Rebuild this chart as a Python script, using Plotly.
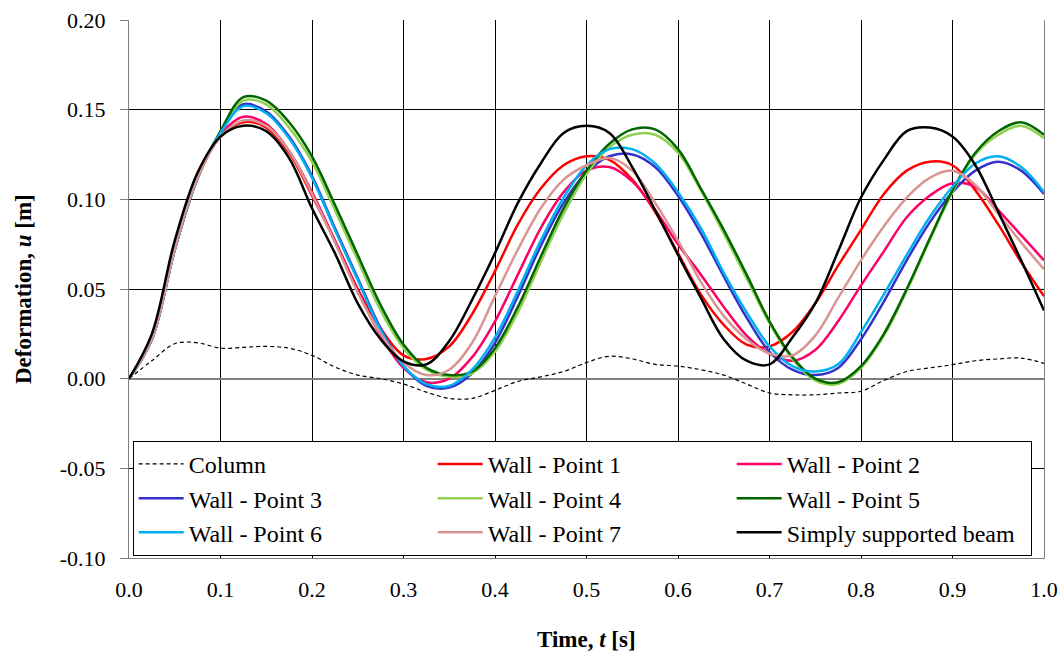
import plotly.graph_objects as go

FONT = '"Times New Roman", "Liberation Serif", serif'

# time axis, 0.025 s step
t = [round(i * 0.025, 3) for i in range(41)]

column = [0.0, 0.010, 0.0195, 0.020, 0.017, 0.0175, 0.018, 0.017, 0.013, 0.0065,
          0.002, 0.0, -0.003, -0.0075, -0.011, -0.011, -0.0065, -0.0015, 0.001, 0.004,
          0.009, 0.0125, 0.011, 0.008, 0.007, 0.005, 0.002, -0.003, -0.008, -0.009,
          -0.009, -0.008, -0.007, -0.001, 0.004, 0.006, 0.0078, 0.010, 0.011, 0.0115, 0.0085]
wall_p1 = [0.0, 0.022, 0.072, 0.112, 0.135, 0.143, 0.140, 0.126, 0.102, 0.077,
           0.050, 0.028, 0.013, 0.011, 0.018, 0.036, 0.060, 0.086, 0.106, 0.119,
           0.124, 0.122, 0.111, 0.093, 0.070, 0.047, 0.030, 0.019, 0.018, 0.026,
           0.042, 0.063, 0.083, 0.103, 0.116, 0.121, 0.119, 0.105, 0.086, 0.065, 0.046]
wall_p2 = [0.0, 0.022, 0.072, 0.112, 0.136, 0.146, 0.142, 0.127, 0.104, 0.077,
           0.049, 0.024, 0.006, -0.002, 0.000, 0.012, 0.032, 0.058, 0.084, 0.104,
           0.116, 0.118, 0.110, 0.094, 0.075, 0.058, 0.040, 0.024, 0.014, 0.010,
           0.016, 0.032, 0.052, 0.071, 0.090, 0.102, 0.109, 0.107, 0.094, 0.080, 0.066]
wall_p3 = [0.0, 0.022, 0.072, 0.112, 0.137, 0.153, 0.149, 0.135, 0.113, 0.084,
           0.056, 0.028, 0.007, -0.004, -0.005, 0.003, 0.020, 0.046, 0.074, 0.098,
           0.115, 0.124, 0.125, 0.118, 0.102, 0.081, 0.057, 0.034, 0.015, 0.005,
           0.002, 0.006, 0.022, 0.043, 0.066, 0.087, 0.104, 0.116, 0.121, 0.116, 0.103]
wall_p4 = [0.0, 0.022, 0.072, 0.112, 0.137, 0.155, 0.153, 0.140, 0.121, 0.094,
           0.066, 0.038, 0.017, 0.005, 0.001, 0.003, 0.015, 0.037, 0.065, 0.092,
           0.114, 0.129, 0.136, 0.136, 0.126, 0.105, 0.081, 0.056, 0.031, 0.011,
           -0.001, -0.003, 0.006, 0.024, 0.049, 0.077, 0.104, 0.125, 0.136, 0.141, 0.134]
wall_p5 = [0.0, 0.022, 0.072, 0.112, 0.138, 0.157, 0.155, 0.143, 0.124, 0.097,
           0.069, 0.041, 0.019, 0.006, 0.002, 0.004, 0.017, 0.040, 0.068, 0.095,
           0.116, 0.131, 0.139, 0.139, 0.128, 0.106, 0.083, 0.058, 0.032, 0.012,
           0.000, -0.002, 0.007, 0.025, 0.050, 0.078, 0.105, 0.126, 0.138, 0.143, 0.136]
wall_p6 = [0.0, 0.022, 0.072, 0.112, 0.137, 0.152, 0.148, 0.134, 0.112, 0.083,
           0.055, 0.027, 0.007, -0.003, -0.004, 0.005, 0.023, 0.049, 0.077, 0.101,
           0.119, 0.128, 0.128, 0.120, 0.104, 0.084, 0.059, 0.037, 0.018, 0.007,
           0.004, 0.008, 0.026, 0.047, 0.069, 0.090, 0.107, 0.120, 0.124, 0.118, 0.104]
wall_p7 = [0.0, 0.022, 0.072, 0.112, 0.135, 0.144, 0.141, 0.127, 0.103, 0.076,
           0.048, 0.025, 0.009, 0.002, 0.005, 0.020, 0.046, 0.072, 0.095, 0.111,
           0.119, 0.123, 0.116, 0.098, 0.077, 0.054, 0.035, 0.022, 0.014, 0.013,
           0.024, 0.045, 0.066, 0.085, 0.101, 0.112, 0.116, 0.108, 0.092, 0.076, 0.061]
beam = [0.0, 0.025, 0.077, 0.115, 0.135, 0.141, 0.138, 0.123, 0.095, 0.070,
        0.042, 0.022, 0.0097, 0.008, 0.021, 0.044, 0.070, 0.098, 0.120, 0.137,
        0.141, 0.137, 0.118, 0.094, 0.069, 0.045, 0.022, 0.010, 0.008, 0.023,
        0.042, 0.071, 0.101, 0.122, 0.138, 0.140, 0.135, 0.119, 0.093, 0.066, 0.038]

y_ticks = [-0.10, -0.05, 0.0, 0.05, 0.10, 0.15, 0.20]
y_ticktext = ["-0.10", "-0.05", "0.00", "0.05", "0.10", "0.15", "0.20"]

series = [
    ("Column", column, "black", 1.2, "4px,3px"),
    ("Wall - Point 1", wall_p1, "#FF0000", 2.5, "solid"),
    ("Wall - Point 2", wall_p2, "#FF0066", 2.5, "solid"),
    ("Wall - Point 3", wall_p3, "#3333CC", 2.5, "solid"),
    ("Wall - Point 4", wall_p4, "#92D050", 2.5, "solid"),
    ("Wall - Point 5", wall_p5, "#006600", 2.5, "solid"),
    ("Wall - Point 6", wall_p6, "#00B0F0", 2.5, "solid"),
    ("Wall - Point 7", wall_p7, "#D99594", 2.5, "solid"),
    ("Simply supported beam", beam, "black", 2.5, "solid"),
]

fig = go.Figure()
for name, vals, color, width, dash in series:
    fig.add_trace(go.Scatter(
        x=t, y=vals, name=name, mode="lines",
        line=dict(color=color, width=width, dash=dash, shape="spline", smoothing=1.0),
    ))

# plot area runs 129..1044 px across, 20..558 px down
fig.add_annotation(text="<b>Deformation, <i>u</i> [m]</b>", textangle=-90,
                   xref="paper", yref="paper", x=(23 - 129) / 915, y=0.5,
                   xanchor="center", yanchor="middle", showarrow=False,
                   font=dict(family=FONT, size=23, color="black"))
fig.add_annotation(text="<b>Time, <i>t</i> [s]</b>",
                   xref="paper", yref="paper", x=0.5, y=(558 - 639) / 538,
                   xanchor="center", yanchor="middle", showarrow=False,
                   font=dict(family=FONT, size=23, color="black"))

fig.update_layout(
    width=1062, height=660,
    margin=dict(l=129, r=18, t=20, b=102, autoexpand=False),
    paper_bgcolor="white", plot_bgcolor="white",
    font=dict(family=FONT, size=22, color="black"),
    showlegend=True,
    legend=dict(
        orientation="h", x=0.004, y=0.004, xanchor="left", yanchor="bottom",
        entrywidth=239, entrywidthmode="pixels", itemwidth=45,
        bgcolor="white", bordercolor="black", borderwidth=1,
        font=dict(family=FONT, size=24, color="black"),
        traceorder="normal",
    ),
    xaxis=dict(
        range=[0, 1], dtick=0.1, tick0=0, tickformat=".1f", automargin=False,
        showgrid=True, gridcolor="black", gridwidth=1,
        zeroline=False, showline=True, linecolor="#808080", linewidth=1,
        ticks="", ticklabelstandoff=12,
    ),
    yaxis=dict(
        range=[-0.1, 0.2], tickvals=y_ticks, ticktext=y_ticktext, automargin=False,
        showgrid=True, gridcolor="black", gridwidth=1,
        zeroline=True, zerolinecolor="#808080", zerolinewidth=2,
        showline=True, linecolor="#808080", linewidth=1, mirror=True,
        ticks="outside", ticklen=8, tickcolor="#808080", ticklabelstandoff=10,
    ),
)

# drop the browser's default body margin so the figure sits at the page origin
fig.write_html("out.html", config={"displayModeBar": False},
               post_script="document.body.style.margin='0';")
